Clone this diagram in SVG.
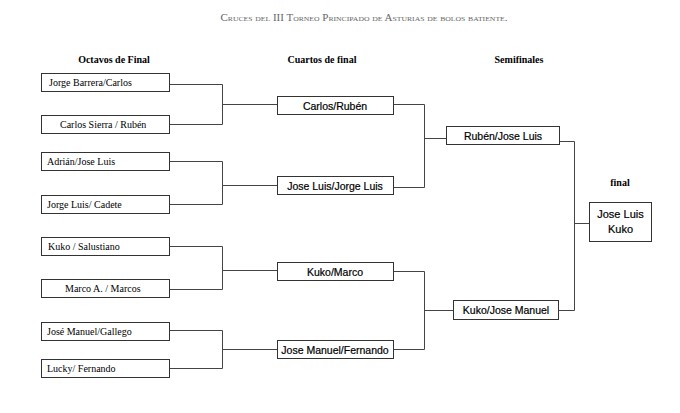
<svg xmlns="http://www.w3.org/2000/svg" width="680" height="413" viewBox="0 0 680 413">
<style>
.bx{fill:#fff;stroke:#333;stroke-width:1}
.o{font-family:"Liberation Serif",serif;font-size:10px;fill:#000}
.q{font-family:"Liberation Sans",Arial,sans-serif;font-size:10.5px;fill:#000;stroke:#000;stroke-width:0.2;text-anchor:middle}
.h{font-family:"Liberation Serif",serif;font-size:10px;font-weight:bold;fill:#000;text-anchor:middle}
.c{fill:none;stroke:#444;stroke-width:1}
</style>
<rect width="680" height="413" fill="#fff"/>
<text x="364" y="21" font-family="Liberation Serif,serif" font-size="10" fill="#666" text-anchor="middle" font-variant="small-caps" textLength="287" lengthAdjust="spacingAndGlyphs">Cruces del III Torneo Principado de Asturias de bolos batiente.</text>
<text class="h" x="114" y="63">Octavos de Final</text>
<text class="h" x="322" y="63">Cuartos de final</text>
<text class="h" x="519" y="63">Semifinales</text>
<text class="h" x="620" y="186">final</text>
<g id="connectors">
<path class="c" d="M169.5 84.5H222.5V124.5H169.5M222.5 104.5H277"/>
<path class="c" d="M169.5 161.5H222.5V204.5H169.5M222.5 185.5H277"/>
<path class="c" d="M169.5 246.5H222.5V289.5H169.5M222.5 270.5H277"/>
<path class="c" d="M169.5 330.5H222.5V368.5H169.5M222.5 349.5H277"/>
<path class="c" d="M393 104.5H424.5V187.5H393M424.5 138.5H446"/>
<path class="c" d="M393 271.5H424.5V349.5H393M424.5 310.5H453"/>
<path class="c" d="M559 141.5H574.5V310.5H558M574.5 223.5H589"/>
</g>
<g id="o1"><rect class="bx" x="41.5" y="73.5" width="128" height="18"/><text class="o" x="49" y="86">Jorge Barrera/Carlos</text></g>
<g id="o2"><rect class="bx" x="41.5" y="115.5" width="128" height="18"/><text class="o" x="60" y="128">Carlos Sierra / Rubén</text></g>
<g id="o3"><rect class="bx" x="41.5" y="152.5" width="128" height="18"/><text class="o" x="47" y="165">Adrián/Jose Luis</text></g>
<g id="o4"><rect class="bx" x="41.5" y="195.5" width="128" height="18"/><text class="o" x="47" y="208">Jorge Luis/ Cadete</text></g>
<g id="o5"><rect class="bx" x="41.5" y="237.5" width="128" height="18"/><text class="o" x="48" y="250">Kuko / Salustiano</text></g>
<g id="o6"><rect class="bx" x="41.5" y="279.5" width="128" height="18"/><text class="o" x="65" y="292">Marco A. / Marcos</text></g>
<g id="o7"><rect class="bx" x="41.5" y="322.5" width="128" height="18"/><text class="o" x="47" y="335">José Manuel/Gallego</text></g>
<g id="o8"><rect class="bx" x="41.5" y="359.5" width="128" height="18"/><text class="o" x="47" y="372">Lucky/ Fernando</text></g>
<g id="q1"><rect class="bx" x="277.5" y="96.5" width="116" height="18"/><text class="q" x="335" y="109.5">Carlos/Rubén</text></g>
<g id="q2"><rect class="bx" x="277.5" y="176.5" width="116" height="18"/><text class="q" x="335" y="189.5">Jose Luis/Jorge Luis</text></g>
<g id="q3"><rect class="bx" x="277.5" y="262.5" width="116" height="18"/><text class="q" x="335" y="275.5">Kuko/Marco</text></g>
<g id="q4"><rect class="bx" x="277.5" y="340.5" width="116" height="18"/><text class="q" x="335" y="353.5">Jose Manuel/Fernando</text></g>
<g id="s1"><rect class="bx" x="446.5" y="126.5" width="113" height="18"/><text class="q" x="503" y="139.5">Rubén/Jose Luis</text></g>
<g id="s2"><rect class="bx" x="453.5" y="300.5" width="105" height="19"/><text class="q" x="506" y="314">Kuko/Jose Manuel</text></g>
<g id="f"><rect class="bx" x="589.5" y="202.5" width="62" height="39"/><text class="q" x="620.5" y="218" style="font-size:11px">Jose Luis</text><text class="q" x="620.5" y="233" style="font-size:11px">Kuko</text></g>
</svg>
